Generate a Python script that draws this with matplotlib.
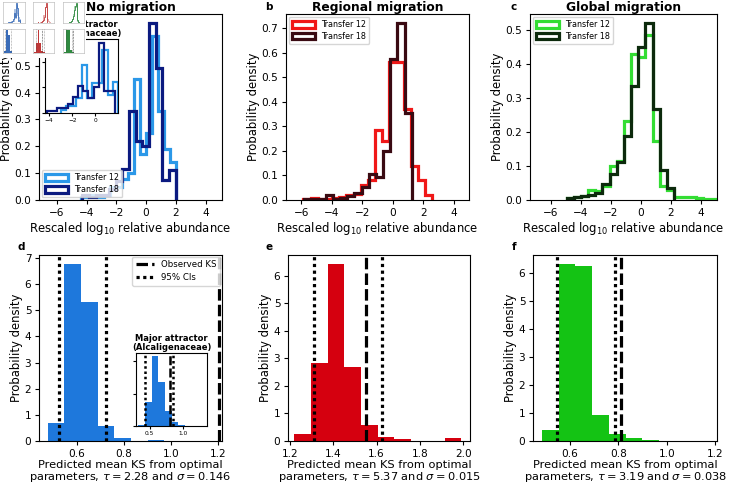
import numpy as np
import matplotlib
matplotlib.use("Agg")
import matplotlib.pyplot as plt
from matplotlib.patches import Patch
from matplotlib.lines import Line2D

plt.rcParams["font.family"] = ["DejaVu Sans"]
plt.rcParams["xtick.labelsize"] = 7.6
plt.rcParams["ytick.labelsize"] = 7.6
plt.rcParams["axes.labelsize"] = 8.4
plt.rcParams["xtick.major.size"] = 3
plt.rcParams["ytick.major.size"] = 3
plt.rcParams["xtick.major.pad"] = 2.5
plt.rcParams["ytick.major.pad"] = 2.5
plt.rcParams["axes.linewidth"] = 0.8

# ---- top row: rescaled log10 abundance, transfer 12 vs 18 ----
a_t12_edges = [-4.4, -4.0, -3.6, -3.2, -2.8, -2.4, -2.0, -1.6, -1.2, -0.8, -0.4,
               0.0, 0.4, 0.8, 1.2, 1.6, 2.0]
a_t12 = [0.01, 0.02, 0.02, 0.01, 0.02, 0.05, 0.05, 0.08, 0.1, 0.45, 0.17,
         0.25, 0.61, 0.33, 0.19, 0.14]
a_t18_edges = [-4.3, -3.85, -3.4, -2.95, -2.5, -2.05, -1.6, -1.15, -0.7, -0.25,
               0.2, 0.65, 1.1, 1.55, 2.0]
a_t18 = [0.02, 0.01, 0.02, 0.02, 0.04, 0.07, 0.116, 0.33, 0.22, 0.2, 0.66,
         0.49, 0.075, 0.11]

# inset of a: major attractor (Alcaligenaceae)
ia_t12_edges = [-3.0, -2.55, -2.1, -1.65, -1.2, -0.75, -0.3, 0.15, 0.6, 1.05,
                1.5, 1.95]
ia_t12 = [0.03, 0.07, 0.07, 0.15, 0.47, 0.15, 0.29, 0.29, 0.62, 0.18, 0.30]
ia_t18_edges = [-4.2, -3.75, -3.3, -2.85, -2.4, -1.95, -1.5, -1.05, -0.6, -0.15,
                0.3, 0.75, 1.2, 1.65]
ia_t18 = [0.02, 0.02, 0.05, 0.05, 0.09, 0.16, 0.26, 0.22, 0.15, 0.25, 0.69,
          0.22, 0.22]

b_t12_edges = [-5.86, -5.39, -4.92, -4.45, -3.98, -3.51, -3.04, -2.57, -2.10,
               -1.63, -1.16, -0.69, -0.22, 0.25, 0.72, 1.19, 1.66, 2.13, 2.60]
b_t12 = [0.005, 0.008, 0.005, 0.005, 0.01, 0.012, 0.02, 0.025, 0.06, 0.08,
         0.284, 0.24, 0.565, 0.565, 0.37, 0.14, 0.08, 0.02]
b_t18_edges = [-5.8, -5.33, -4.86, -4.39, -3.92, -3.45, -2.98, -2.51, -2.04,
               -1.57, -1.10, -0.63, -0.16, 0.31, 0.78, 1.25]
b_t18 = [0.005, 0.005, 0.005, 0.02, 0.005, 0.01, 0.015, 0.03, 0.055, 0.105,
         0.095, 0.2, 0.576, 0.723, 0.357]

c_t12_edges = [-4.96, -4.48, -4.0, -3.52, -3.04, -2.56, -2.08, -1.6, -1.12,
               -0.64, -0.16, 0.32, 0.8, 1.28, 1.76, 2.24, 2.72, 3.2, 3.68,
               4.16, 4.64, 5.12]
c_t12 = [0.005, 0.008, 0.012, 0.03, 0.025, 0.04, 0.1, 0.115, 0.233, 0.43, 0.42,
         0.485, 0.174, 0.04, 0.03, 0.008, 0.01, 0.01, 0.005, 0.003, 0.003]
c_t18_edges = [-4.96, -4.48, -4.0, -3.52, -3.04, -2.56, -2.08, -1.6, -1.12,
               -0.64, -0.16, 0.32, 0.8, 1.28, 1.76, 2.24]
c_t18 = [0.007, 0.01, 0.012, 0.015, 0.02, 0.046, 0.075, 0.113, 0.187, 0.334,
         0.45, 0.52, 0.268, 0.088, 0.036]

# ---- bottom row: predicted mean KS ----
d_edges = [0.477, 0.548, 0.618, 0.689, 0.759, 0.830, 0.901, 0.971]
d_vals = [0.69, 6.78, 5.33, 0.57, 0.12, 0.01, 0.02]
d_obs = 1.203
d_ci = [0.526, 0.723]

id_edges = [0.32, 0.423, 0.526, 0.627, 0.73, 0.83, 0.93, 1.03]
id_vals = [0.08, 1.5, 4.3, 2.7, 0.92, 0.25, 0.08]
id_obs = 0.80
id_ci = [0.43, 0.86]

e_edges = [1.220, 1.297, 1.374, 1.451, 1.528, 1.605, 1.682, 1.759, 1.836,
           1.913, 1.990]
e_vals = [0.24, 2.83, 6.43, 2.7, 0.57, 0.15, 0.08, 0.0, 0.0, 0.1]
e_obs = 1.55
e_ci = [1.312, 1.625]

f_edges = [0.485, 0.554, 0.623, 0.692, 0.761, 0.830, 0.899, 0.968]
f_vals = [0.38, 6.32, 6.24, 0.92, 0.26, 0.11, 0.05]
f_obs = 0.81
f_ci = [0.545, 0.786]

titles = ["No migration", "Regional migration", "Global migration"]
taus = ["2.28", "5.37", "3.19"]
sigmas = ["0.146", "0.015", "0.038"]

light = ["#2b98e8", "#f01818", "#33dd33"]
dark = ["#0b1a80", "#3a0a12", "#0c2a0c"]
barcol = ["#1e78dc", "#d5000f", "#14c314"]
thumbcol = ["#3a6cb8", "#c03838", "#2f8a40"]

W, H = 730, 486
fig = plt.figure(figsize=(W / 100, H / 100), dpi=100)


def px_axes(x0, y0, x1, y1, **kw):
    return fig.add_axes([x0 / W, 1 - y1 / H, (x1 - x0) / W, (y1 - y0) / H], **kw)


def abundance_panel(ax, e12, h12, e18, h18, i, xlim, loc):
    ax.stairs(h12, e12, color=light[i], lw=2.3)
    ax.stairs(h18, e18, color=dark[i], lw=2.3)
    ax.set_xlim(*xlim)
    ax.set_xticks([-6, -4, -2, 0, 2, 4])
    ax.set_title(titles[i], fontweight="bold", fontsize=8.8, pad=2.5)
    ax.set_xlabel("Rescaled log$_{10}$ relative abundance", labelpad=2)
    ax.set_ylabel("Probability density", labelpad=1)
    handles = [Patch(facecolor="none", edgecolor=light[i], lw=2.3, label="Transfer 12"),
               Patch(facecolor="none", edgecolor=dark[i], lw=2.3, label="Transfer 18")]
    ax.legend(handles=handles, loc=loc, fontsize=5.8, handlelength=2.8,
              handleheight=0.9, borderaxespad=0.35, labelspacing=0.35)


def ks_panel(ax, edges, vals, obs, ci, i, xlim, xticks, lw=2.3):
    ax.bar(edges[:-1], vals, width=np.diff(edges), align="edge",
           color=barcol[i], lw=0)
    ax.axvline(obs, color="k", lw=lw, ls=(0, (3.6, 1.3)))
    for c in ci:
        ax.axvline(c, color="k", lw=lw, ls=(0, (1, 1.1)))
    ax.set_xlim(*xlim)
    ax.set_xticks(xticks)


# top row
ax_a = px_axes(39, 14, 222, 200)
abundance_panel(ax_a, a_t12_edges, a_t12, a_t18_edges, a_t18, 0, (-7.2, 5.1), "lower left")
ax_b = px_axes(286, 14, 469, 200)
abundance_panel(ax_b, b_t12_edges, b_t12, b_t18_edges, b_t18, 1, (-7.0, 5.0), "upper left")
ax_c = px_axes(530, 14, 717, 200)
abundance_panel(ax_c, c_t12_edges, c_t12, c_t18_edges, c_t18, 2, (-7.4, 5.1), "upper left")

ax_ia = px_axes(45, 39, 118, 113)
ax_ia.stairs(ia_t12, ia_t12_edges, color=light[0], lw=1.6)
ax_ia.stairs(ia_t18, ia_t18_edges, color=dark[0], lw=1.6)
ax_ia.set_xlim(-4.35, 1.95)
ax_ia.set_ylim(0, 0.725)
ax_ia.set_xticks([-4, -2, 0])
ax_ia.set_yticks([0, 0.25, 0.5])
ax_ia.set_yticklabels([])
ax_ia.tick_params(labelsize=4.2, length=2, pad=1.5)
ax_ia.set_title("Major attractor\n(Alcaligenaceae)", fontsize=6, fontweight="bold",
                pad=2, linespacing=1.1)

# bottom row
ax_d = px_axes(39, 255, 222, 441)
ks_panel(ax_d, d_edges, d_vals, d_obs, d_ci, 0, (0.44, 1.216), [0.6, 0.8, 1.0, 1.2])
ax_d.set_yticks(range(0, 8))
ax_e = px_axes(288, 255, 470, 441)
ks_panel(ax_e, e_edges, e_vals, e_obs, e_ci, 1, (1.192, 2.03), [1.2, 1.4, 1.6, 1.8, 2.0])
ax_f = px_axes(533, 255, 717, 441)
ks_panel(ax_f, f_edges, f_vals, f_obs, f_ci, 2, (0.448, 1.207), [0.6, 0.8, 1.0, 1.2])

for ax, tau, sig in zip([ax_d, ax_e, ax_f], taus, sigmas):
    ax.set_ylabel("Probability density", labelpad=1)
    ax.set_xlabel("Predicted mean KS from optimal\nparameters, $\\tau = %s$ and $\\sigma = %s$"
                  % (tau, sig), fontsize=8.2, linespacing=0.95, labelpad=1)

leg_handles = [Line2D([], [], color="k", lw=2.3, ls=(0, (3.6, 1.3)), label="Observed KS"),
               Line2D([], [], color="k", lw=2.3, ls=(0, (1, 1.1)), label="95% CIs")]
ax_d.legend(handles=leg_handles, loc="upper right", fontsize=6.2, handlelength=2.2,
            borderaxespad=0.2, labelspacing=0.5)

ax_id = px_axes(136, 353, 207, 426)
ks_panel(ax_id, id_edges, id_vals, id_obs, id_ci, 0, (0.29, 1.37), [0.5, 1.0], lw=1.8)
ax_id.set_yticks([0, 2, 4])
ax_id.set_yticklabels([])
ax_id.tick_params(labelsize=4.2, length=2, pad=1.5)
ax_id.set_title("Major attractor\n(Alcaligenaceae)", fontsize=6, fontweight="bold",
                pad=2, linespacing=1.1)

# panel letters
for letter, (x, y) in zip("abcdef", [(20, 7), (269, 7), (514, 7),
                                     (21, 247), (269, 247), (514, 247)]):
    fig.text(x / W, 1 - y / H, letter, fontsize=7.5, fontweight="bold",
             ha="center", va="center")

# small preview of the whole figure sitting in the top-left corner
ax_bg = px_axes(0, 0, 86, 58, zorder=10)
ax_bg.set_facecolor("white")
ax_bg.set_xticks([])
ax_bg.set_yticks([])
for s in ax_bg.spines.values():
    s.set_visible(False)

cols_px = [(3, 25), (33, 54), (63, 84)]
top_sets = [(a_t12_edges, a_t12, a_t18_edges, a_t18),
            (b_t12_edges, b_t12, b_t18_edges, b_t18),
            (c_t12_edges, c_t12, c_t18_edges, c_t18)]
bot_sets = [(d_edges, d_vals, d_obs, d_ci, (0.44, 1.216)),
            (e_edges, e_vals, e_obs, e_ci, (1.192, 2.03)),
            (f_edges, f_vals, f_obs, f_ci, (0.448, 1.207))]
for i, (x0, x1) in enumerate(cols_px):
    m = px_axes(x0, 2, x1, 23, zorder=11)
    e12, h12, e18, h18 = top_sets[i]
    m.stairs(h12, e12, color=thumbcol[i], lw=0.5, alpha=0.6)
    m.stairs(h18, e18, color=thumbcol[i], lw=0.6)
    m.set_xlim(-7, 5)
    m2 = px_axes(x0, 29, x1, 53, zorder=11)
    edges, vals, obs, ci, xl = bot_sets[i]
    m2.bar(edges[:-1], vals, width=np.diff(edges), align="edge",
           color=thumbcol[i], lw=0)
    m2.axvline(obs, color="0.3", lw=0.4, ls="--")
    for c in ci:
        m2.axvline(c, color="0.3", lw=0.4, ls=":")
    m2.set_xlim(*xl)
    for mm in (m, m2):
        mm.set_xticks([])
        mm.set_yticks([])
        for s in mm.spines.values():
            s.set_color("#b0b0b0")
            s.set_linewidth(0.4)

fig.savefig("out.png", dpi=100)
